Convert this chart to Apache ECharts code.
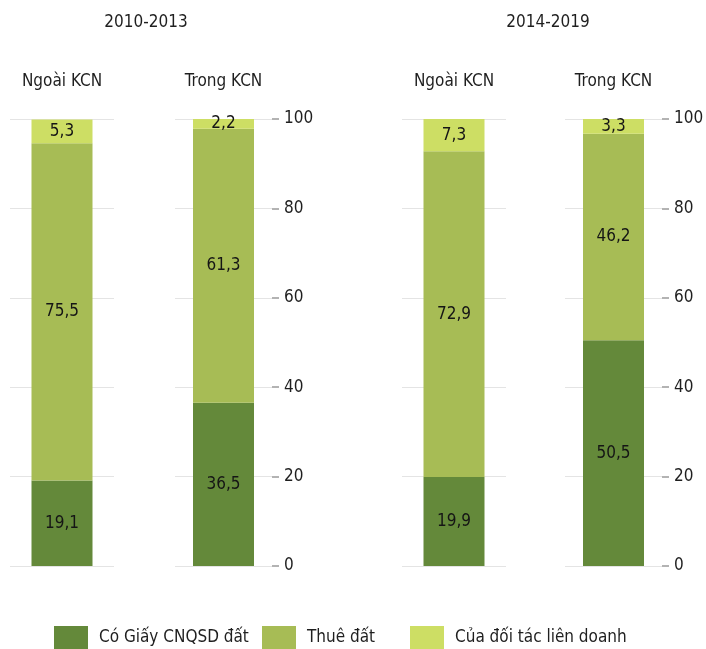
<!DOCTYPE html>
<html>
<head>
<meta charset="utf-8">
<script src="https://cdn.jsdelivr.net/npm/echarts@6/dist/echarts.min.js"></script>
<style>
  html, body { margin: 0; padding: 0; background: #fff; }
  #chart { width: 706px; height: 649px; }
</style>
</head>
<body>
<div id="chart"></div>
<script>
// Periods and locations
const periods = ['2010-2013', '2014-2019'];
const places = ['Ngoài KCN', 'Trong KCN'];
const seriesNames = ['Có Giấy CNQSD đất', 'Thuê đất', 'Của đối tác liên doanh'];

// Shares (%) per bar, in order: 2010-2013 Ngoài, 2010-2013 Trong, 2014-2019 Ngoài, 2014-2019 Trong
const landCertificate = [19.1, 36.5, 19.9, 50.5];
const landLease = [75.5, 61.3, 72.9, 46.2];
const partnerLand = [5.3, 2.2, 7.3, 3.3];

// Value axis ticks
const yTicks = [0, 20, 40, 60, 80, 100];

const colors = ['#64893a', '#a7bc55', '#cdde64'];
const FONT = '"DejaVu Sans Condensed", "Roboto", sans-serif';
const FS = 17;
const TEXT = '#1f1f1f';

// One small grid per bar
const gridBoxes = [
  { left: 10, width: 104 },
  { left: 175, width: 97 },
  { left: 402, width: 104 },
  { left: 565, width: 97 }
];

// Left edge of each legend entry
const legendLefts = [54, 262, 410];

const values = [landCertificate, landLease, partnerLand];

const grid = gridBoxes.map(b => ({
  left: b.left, width: b.width, top: 119, height: 447,
  outerBoundsMode: 'none', containLabel: false
}));

const xAxis = gridBoxes.map((b, i) => ({
  type: 'category',
  gridIndex: i,
  position: 'top',
  data: [places[i % 2]],
  axisLine: { show: false },
  axisTick: { show: false },
  axisLabel: { margin: 29, fontFamily: FONT, fontSize: FS, color: TEXT }
}));

const yAxis = gridBoxes.map((b, i) => {
  const showLabels = i % 2 === 1;
  return {
    type: 'value',
    gridIndex: i,
    position: 'right',
    min: yTicks[0],
    max: yTicks[yTicks.length - 1],
    interval: yTicks[1] - yTicks[0],
    axisLine: { show: false },
    axisTick: { show: showLabels, length: 7, lineStyle: { color: '#9a9a9a', width: 1.5 } },
    axisLabel: { show: showLabels, margin: 12, fontFamily: FONT, fontSize: FS, color: TEXT },
    splitLine: { show: true, lineStyle: { color: '#e4e4e4', width: 1 } }
  };
});

const series = [];
gridBoxes.forEach((b, i) => {
  seriesNames.forEach((name, k) => {
    series.push({
      name: name,
      type: 'bar',
      stack: 'bar' + i,
      xAxisIndex: i,
      yAxisIndex: i,
      barWidth: 61,
      data: [values[k][i]],
      itemStyle: { color: colors[k] },
      label: {
        show: true,
        position: 'inside',
        fontFamily: FONT,
        fontSize: FS,
        color: '#151515',
        formatter: p => String(p.value).replace('.', ',')
      },
      emphasis: { disabled: true }
    });
  });
});

// One legend component per entry so each can sit at its own spot
const legend = seriesNames.map((name, k) => ({
  data: [name],
  left: legendLefts[k],
  top: 626,
  padding: 0,
  icon: 'rect',
  itemWidth: 34,
  itemHeight: 23,
  textStyle: { fontFamily: FONT, fontSize: FS, color: TEXT, padding: [0, 0, 0, 6] },
  selectedMode: false
}));

const chart = echarts.init(document.getElementById('chart'), null, { renderer: 'canvas' });
chart.setOption({
  animation: false,
  backgroundColor: '#fff',
  grid: grid,
  xAxis: xAxis,
  yAxis: yAxis,
  series: series,
  legend: legend,
  graphic: [
    { type: 'text', x: 146, y: 23, style: { text: periods[0], fontFamily: FONT, fontSize: FS, fill: TEXT, textAlign: 'center', textVerticalAlign: 'middle' } },
    { type: 'text', x: 548, y: 23, style: { text: periods[1], fontFamily: FONT, fontSize: FS, fill: TEXT, textAlign: 'center', textVerticalAlign: 'middle' } }
  ]
});
</script>
</body>
</html>
